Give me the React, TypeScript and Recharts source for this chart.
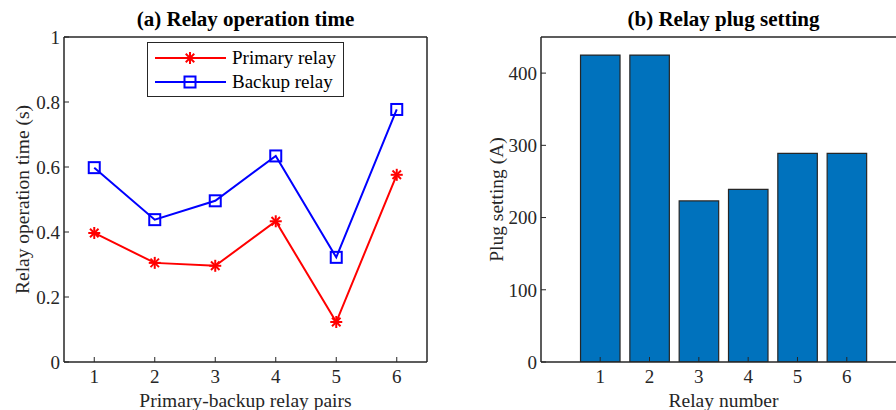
import {
  LineChart,
  Line,
  BarChart,
  Bar,
  XAxis,
  YAxis,
  Legend,
} from "recharts";

const pairs = [1, 2, 3, 4, 5, 6];
const primaryTime = [0.397, 0.305, 0.296, 0.433, 0.123, 0.576];
const backupTime = [0.598, 0.438, 0.496, 0.634, 0.322, 0.777];
const timeTicks = [0, 0.2, 0.4, 0.6, 0.8, 1];

const relays = [1, 2, 3, 4, 5, 6];
const plugSetting = [425, 425, 223, 239, 289, 289];
const plugTicks = [0, 100, 200, 300, 400];

const timeData = pairs.map((p, i) => ({ pair: p, primary: primaryTime[i], backup: backupTime[i] }));
const plugData = relays.map((r, i) => ({ relay: r, plug: plugSetting[i] }));

const FONT = '"Liberation Serif", "Times New Roman", serif';
const AX = "#262626";
const tickStyle = { fontSize: 19, fill: AX, fontFamily: FONT };
const labelFont = { fontSize: 19.5, fill: AX, fontFamily: FONT };
const titleFont = { fontSize: 21, fontWeight: "bold", fill: "#000", fontFamily: FONT };
const axisLine = { stroke: AX, strokeWidth: 1.5 };
const tickLine = { stroke: AX, strokeWidth: 1 };

function Star({ cx, cy, color }: { cx: number; cy: number; color: string }) {
  const r = 6;
  const d = r * 0.7071;
  return (
    <g stroke={color} strokeWidth={2}>
      <line x1={cx - r} y1={cy} x2={cx + r} y2={cy} />
      <line x1={cx} y1={cy - r} x2={cx} y2={cy + r} />
      <line x1={cx - d} y1={cy - d} x2={cx + d} y2={cy + d} />
      <line x1={cx - d} y1={cy + d} x2={cx + d} y2={cy - d} />
    </g>
  );
}

function Square({ cx, cy, color }: { cx: number; cy: number; color: string }) {
  return <rect x={cx - 5.5} y={cy - 5.5} width={11} height={11} fill="none" stroke={color} strokeWidth={2} />;
}

const series = [
  { key: "primary", name: "Primary relay", color: "#FF0000", Marker: Star },
  { key: "backup", name: "Backup relay", color: "#0000FF", Marker: Square },
];

function LegendBox() {
  return (
    <div
      style={{
        width: 197,
        height: 55,
        boxSizing: "border-box",
        border: `1px solid ${AX}`,
        background: "#fff",
        fontFamily: FONT,
        fontSize: 19,
        color: "#000",
        paddingTop: 3,
      }}
    >
      {series.map((s) => (
        <div key={s.key} style={{ display: "flex", alignItems: "center", height: 24 }}>
          <svg width={84} height={20} style={{ flex: "none" }}>
            <line x1={7} y1={10} x2={78} y2={10} stroke={s.color} strokeWidth={2} />
            <s.Marker cx={42} cy={10} color={s.color} />
          </svg>
          <span>{s.name}</span>
        </div>
      ))}
    </div>
  );
}

function OperationTime() {
  return (
    <LineChart
      width={448}
      height={410}
      data={timeData}
      margin={{ top: 36, right: 20, bottom: 0, left: 0 }}
    >
      <XAxis
        dataKey="pair"
        type="number"
        domain={[0.5, 6.5]}
        ticks={pairs}
        allowDataOverflow
        height={48}
        tick={tickStyle}
        tickSize={-5}
        tickMargin={13}
        axisLine={axisLine}
        tickLine={tickLine}
        label={{ value: "Primary-backup relay pairs", position: "insideBottom", offset: 3, ...labelFont }}
      />
      <XAxis
        xAxisId="top"
        orientation="top"
        dataKey="pair"
        type="number"
        domain={[0.5, 6.5]}
        ticks={pairs}
        allowDataOverflow
        height={1}
        tick={false}
        tickSize={-5}
        axisLine={axisLine}
        tickLine={tickLine}
        label={{ value: "(a) Relay operation time", position: "top", offset: 10, ...titleFont }}
      />
      <YAxis
        type="number"
        domain={[0, 1]}
        ticks={timeTicks}
        allowDataOverflow
        width={64}
        tick={tickStyle}
        tickSize={-5}
        tickMargin={9}
        axisLine={axisLine}
        tickLine={tickLine}
        label={{ value: "Relay operation time (s)", angle: -90, position: "insideLeft", offset: 22, ...labelFont, style: { textAnchor: "middle" } }}
      />
      <YAxis
        yAxisId="right"
        orientation="right"
        type="number"
        domain={[0, 1]}
        ticks={timeTicks}
        allowDataOverflow
        width={1}
        tick={false}
        tickSize={-5}
        axisLine={axisLine}
        tickLine={tickLine}
      />
      <Legend
        layout="vertical"
        align="center"
        verticalAlign="middle"
        content={LegendBox}
        wrapperStyle={{ top: 42, left: 147, width: "auto", height: "auto" }}
      />
      {series.map((s) => (
        <Line
          key={s.key}
          dataKey={s.key}
          name={s.name}
          stroke={s.color}
          strokeWidth={2}
          isAnimationActive={false}
          activeDot={false}
          dot={(p: any) => <s.Marker key={`${s.key}-${p.index}`} cx={p.cx} cy={p.cy} color={s.color} />}
        />
      ))}
    </LineChart>
  );
}

function PlugSetting() {
  return (
    <BarChart
      width={480}
      height={410}
      data={plugData}
      margin={{ top: 36, right: 21, bottom: 0, left: 0 }}
      barSize={39.5}
    >
      <XAxis
        dataKey="relay"
        type="number"
        domain={[-0.2, 7.2]}
        ticks={relays}
        allowDataOverflow
        height={48}
        tick={tickStyle}
        tickSize={-5}
        tickMargin={13}
        axisLine={axisLine}
        tickLine={tickLine}
        label={{ value: "Relay number", position: "insideBottom", offset: 3, ...labelFont }}
      />
      <XAxis
        xAxisId="top"
        orientation="top"
        dataKey="relay"
        type="number"
        domain={[-0.2, 7.2]}
        ticks={relays}
        allowDataOverflow
        height={1}
        tick={false}
        tickSize={-5}
        axisLine={axisLine}
        tickLine={tickLine}
        label={{ value: "(b) Relay plug setting", position: "top", offset: 10, ...titleFont }}
      />
      <YAxis
        type="number"
        domain={[0, 450]}
        ticks={plugTicks}
        allowDataOverflow
        width={93}
        tick={tickStyle}
        tickSize={-5}
        tickMargin={9}
        axisLine={axisLine}
        tickLine={tickLine}
        label={{ value: "Plug setting (A)", angle: -90, position: "insideLeft", offset: 48, ...labelFont, style: { textAnchor: "middle" } }}
      />
      <YAxis
        yAxisId="right"
        orientation="right"
        type="number"
        domain={[0, 450]}
        ticks={plugTicks}
        allowDataOverflow
        width={1}
        tick={false}
        tickSize={-5}
        axisLine={axisLine}
        tickLine={tickLine}
      />
      <Bar dataKey="plug" fill="#0072BD" stroke={AX} strokeWidth={1.2} isAnimationActive={false} />
    </BarChart>
  );
}

export default function App() {
  return (
    <div
      style={{
        position: "absolute",
        top: 0,
        left: 0,
        width: 896,
        height: 410,
        overflow: "hidden",
        background: "#fff",
      }}
    >
      <div style={{ position: "absolute", left: 0, top: 0 }}>
        <OperationTime />
      </div>
      <div style={{ position: "absolute", left: 448, top: 0 }}>
        <PlugSetting />
      </div>
    </div>
  );
}
